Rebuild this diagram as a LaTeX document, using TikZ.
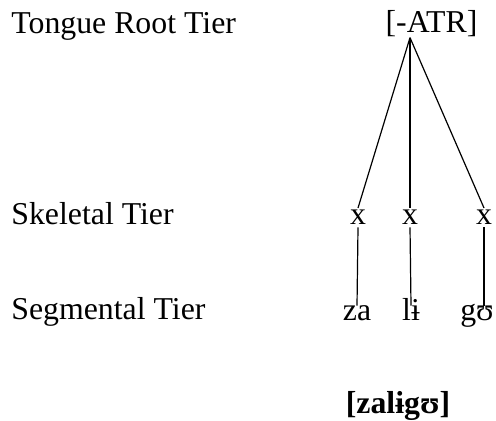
\documentclass[tikz,border=0pt]{standalone}
\usepackage{fontspec}
\setmainfont{Liberation Serif}
\begin{document}
\begin{tikzpicture}[x=0.5pt,y=-0.5pt,
   every node/.style={font=\fontsize{15.9}{19}\selectfont,inner sep=0pt},
   tier label/.style={anchor=base west},
   slot/.style={anchor=base,inner sep=1pt},
   segment/.style={anchor=base,text height=0.7em,text depth=0.25em},
   assoc/.style={line width=0.6pt}]
\useasboundingbox (0,0) rectangle (496,421);
% tier labels
\node[tier label] (tr label) at (11,34) {Tongue Root Tier};
\node[tier label] (sk label) at (11,225) {Skeletal Tier};
\node[tier label] (sg label) at (11,319) {Segmental Tier};
% tongue root feature
\node[anchor=base] (atr) at (431.5,33) {[-ATR]};
\coordinate (apex) at ([xshift=-10.75pt]atr.south);
% skeletal slots
\node[slot] (x1) at (358,225) {x};
\node[slot] (x2) at (410,225) {x};
\node[slot] (x3) at (484,225) {x};
% segments
\node[segment] (za) at (357,320) {za};
\node[segment] (li) at (411,320) {lɨ};
\node[segment] (go) at (477,320) {gʊ};
% surface form
\node[anchor=base] (surface) at (398,413) {\textbf{[zalɨgʊ]}};
% association lines
\draw[assoc] (apex) -- (x1.north);
\draw[assoc] (apex) -- (x2.north);
\draw[assoc] (apex) -- (x3.north);
\draw[assoc] (x1.south) -- (za.north);
\draw[assoc] (x2.south) -- (li.north);
\draw[assoc] (x3.south) -- (x3.south |- go.north);
\end{tikzpicture}
\end{document}
